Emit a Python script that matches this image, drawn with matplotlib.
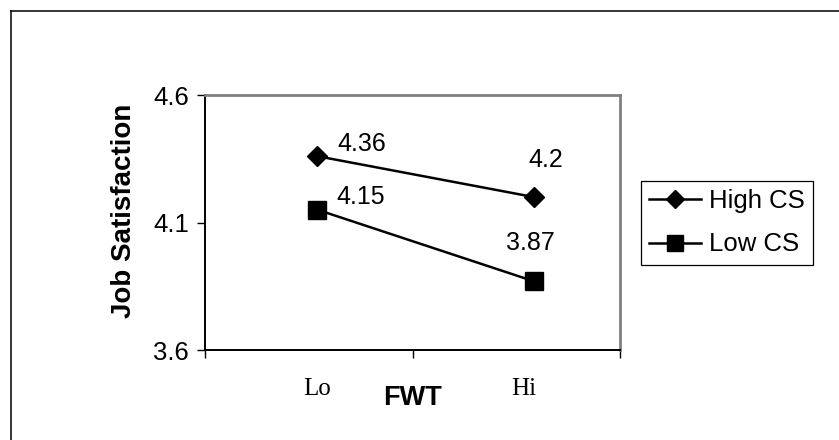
import matplotlib
matplotlib.use("Agg")
import matplotlib.pyplot as plt
from matplotlib.lines import Line2D

# Data
fwt_levels = ["Lo", "Hi"]
high_cs = [4.36, 4.2]
low_cs = [4.15, 3.87]
series_names = ["High CS", "Low CS"]
y_ticks = [3.6, 4.1, 4.6]

plt.rcParams["font.family"] = ["Liberation Sans", "DejaVu Sans"]

W, H = 839, 440
fig = plt.figure(figsize=(W / 100, H / 100), dpi=100)
fig.patch.set_facecolor("white")

# Outer chart frame (top and left edges visible)
fig.add_artist(Line2D([10.5 / W, 10.5 / W], [0, 1 - 11 / H], color="black",
                      lw=1.1, transform=fig.transFigure))
fig.add_artist(Line2D([10.5 / W, 1], [1 - 11 / H, 1 - 11 / H], color="black",
                      lw=1.1, transform=fig.transFigure))

ax = fig.add_axes([205 / W, (H - 350) / H, 415 / W, 255 / H])

x = list(range(len(fwt_levels)))
line_hi, = ax.plot(x, high_cs, color="black", lw=1.8, marker="D", ms=10.5,
                   mfc="black", mec="black", label=series_names[0], clip_on=False)
line_lo, = ax.plot(x, low_cs, color="black", lw=1.8, marker="s", ms=12.5,
                   mfc="black", mec="black", label=series_names[1], clip_on=False)

ax.set_ylim(3.6, 4.6)
ax.set_xlim(-0.52, 1.40)

# Value labels
label_style = [
    (high_cs, [(14.4, 9, "left"), (9, 26.6, "center")]),
    (low_cs, [(13.7, 9, "left"), (-2.5, 27.4, "center")]),
]
for vals, offs in label_style:
    for xi, v, (dx, dy, ha) in zip(x, vals, offs):
        ax.annotate(f"{v:g}", (xi, v), xytext=(dx, dy), textcoords="offset points",
                    ha=ha, va="center", fontsize=18, color="black")

# Y axis
ax.set_yticks(y_ticks)
ax.set_yticklabels([f"{t:.1f}" for t in y_ticks], fontsize=18.5)
ax.tick_params(axis="y", direction="out", length=5.5, width=1.0, pad=6,
               colors="black")

# X axis: category boundaries as major ticks, names as minor ticks
bounds = [-0.52, 0.44, 1.40]
ax.set_xticks(bounds)
ax.set_xticklabels([])
ax.tick_params(axis="x", which="major", direction="out", length=5.5, width=1.0)
ax.set_xticks([0, 0.955], minor=True)
ax.set_xticklabels(fwt_levels, minor=True, fontsize=18,
                   fontfamily="Liberation Serif")
ax.tick_params(axis="x", which="minor", length=0, pad=20)

for side in ["left", "bottom"]:
    ax.spines[side].set_color("black")
    ax.spines[side].set_linewidth(1.4)
for side in ["top", "right"]:
    ax.spines[side].set_color("#808080")
    ax.spines[side].set_linewidth(2.0)

ax.text(-0.195, 0.547, "Job Satisfaction", transform=ax.transAxes, rotation=90,
        ha="center", va="center", fontsize=20, fontweight="bold")
ax.text(0.499, -0.188, "FWT", transform=ax.transAxes, ha="center", va="center",
        fontsize=19.5, fontweight="bold")

leg = ax.legend(handles=[line_hi, line_lo], loc="upper left",
                bbox_to_anchor=(641 / W, 1 - 181 / H),
                bbox_transform=fig.transFigure, borderaxespad=0,
                fontsize=18.5, frameon=True, fancybox=False, framealpha=1,
                edgecolor="black", handlelength=2.0, handletextpad=0.3,
                borderpad=0.33, labelspacing=0.74, markerscale=0.9)
leg.get_frame().set_linewidth(0.9)

fig.savefig("out.png", dpi=100, facecolor="white")
